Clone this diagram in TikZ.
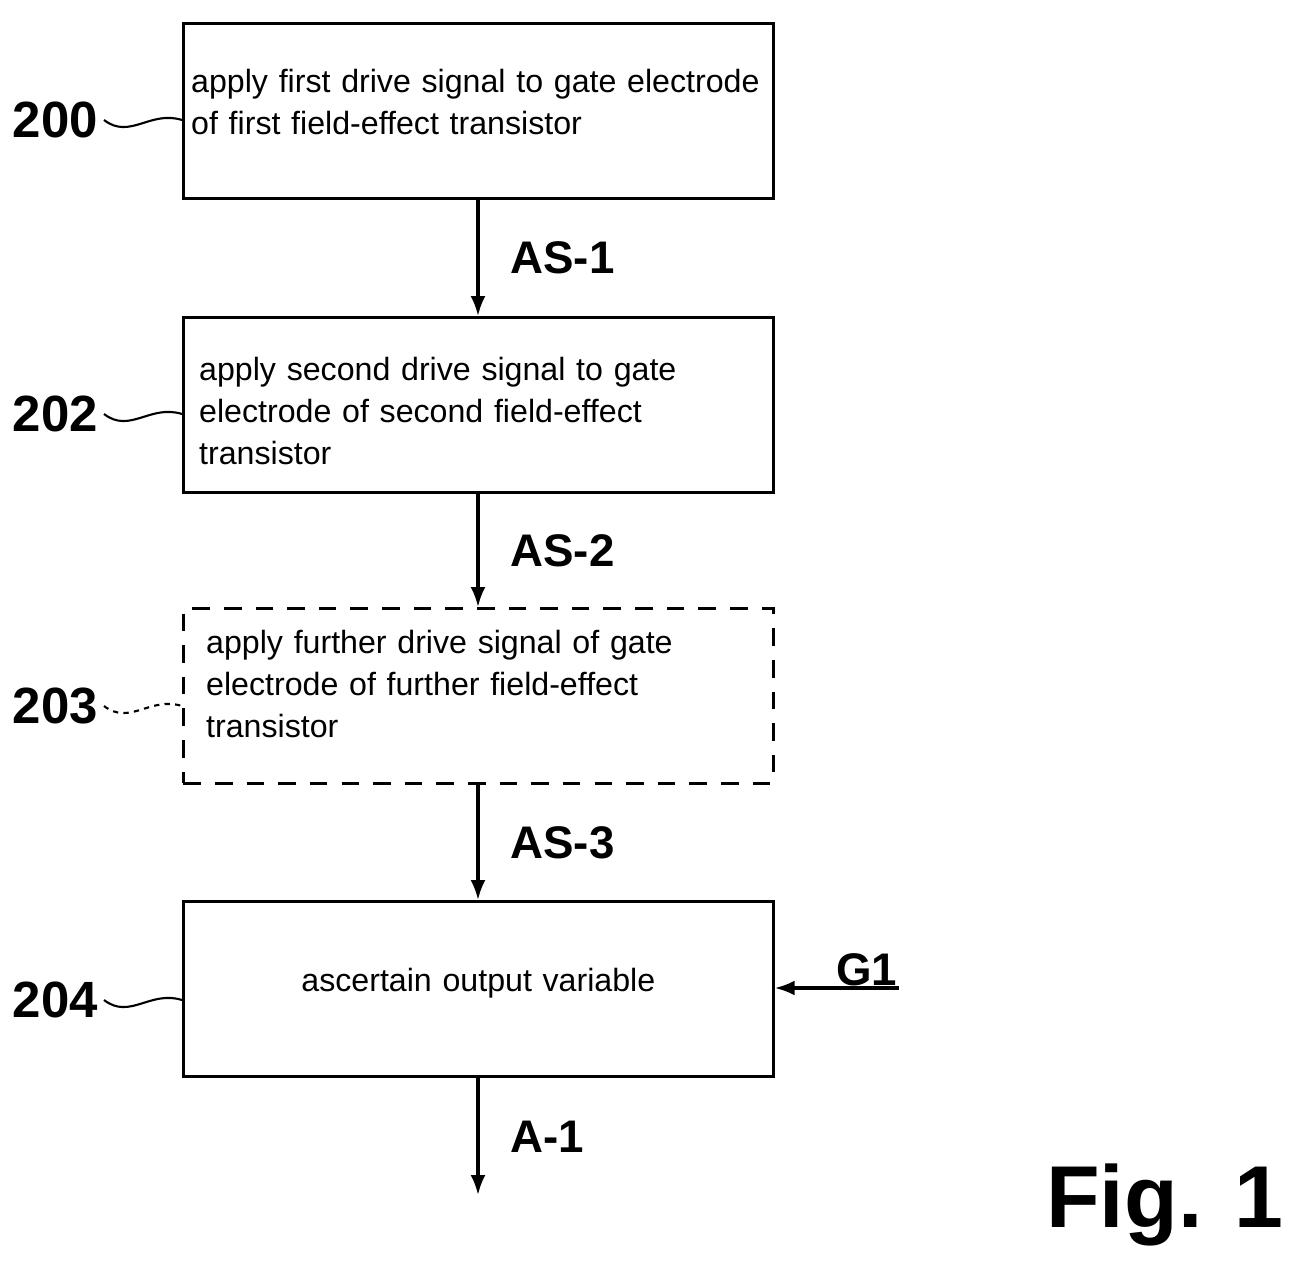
\documentclass[tikz,border=0pt]{standalone}
\usepackage{fontspec}
\setmainfont{Liberation Sans}
\usetikzlibrary{positioning}
\usetikzlibrary{arrows.meta}
\begin{document}
\begin{tikzpicture}[x=0.02cm,y=-0.02cm,
passo/.style={draw,line width=1.6pt,minimum width=11.8cm,minimum height=3.5cm,anchor=north west,inner sep=0pt},
testoP/.style={text width=11.6cm,align=left,font=\fontsize{18.3}{24}\selectfont},
numero/.style={font=\fontsize{29}{29}\selectfont\bfseries,anchor=east},
segnale/.style={font=\fontsize{26}{26}\selectfont\bfseries,anchor=west},
freccia/.style={-{Latex[length=4mm,width=3mm]},line width=1.8pt}
]
\useasboundingbox (0,0) rectangle (1300,1277);
%--
\node[passo](a) at (182,22){}; \node[testoP,anchor=west] at (185,102){apply first drive signal to gate electrode\\of first field-effect transistor};
\node[passo](b) at (182,316){}; \node[testoP,anchor=west] at (193,411){apply second drive signal to gate\\electrode of second field-effect\\transistor};
\node[passo,dashed,dash pattern=on 10pt off 8pt](c) at (182,607){}; \node[testoP,anchor=west] at (200,684){apply further drive signal of gate\\electrode of further field-effect\\transistor};
\node[passo](d) at (182,900){}; \node[testoP,align=center] at (a.center |- 0,983){ascertain output variable};
%--
\draw[freccia] (a.south -| 478,0) -- (b.north -| 478,0) node[segnale,midway,xshift=5mm]{AS-1};
\draw[freccia] (b.south -| 478,0) -- (c.north -| 478,0) node[segnale,midway,xshift=5mm]{AS-2};
\draw[freccia] (c.south -| 478,0) -- (d.north -| 478,0) node[segnale,midway,xshift=5mm]{AS-3};
\coordinate (fine) at (478,1195);
\draw[freccia] (d.south -| 478,0) -- (fine) node[segnale,midway,xshift=5mm]{A-1};
%--
\node[segnale,anchor=south west,inner sep=1pt](g) at (834,988){G1};
\draw[freccia] (g.south east) -- (g.south west) -- (d.east |- g.south);
%--
\node[numero](n200) at (104,120){200};
\node[numero](n202) at (104,414){202};
\node[numero](n203) at (104,706){203};
\node[numero](n204) at (104,1000){204};
\draw[line width=1.2pt] (n200.east) .. controls (130,140) and (150,110) .. (a.west |- 0,120);
\draw[line width=1.2pt] (n202.east) .. controls (130,434) and (150,404) .. (b.west |- 0,414);
\draw[line width=1.2pt,dashed] (n203.east) .. controls (130,726) and (150,696) .. (c.west |- 0,706);
\draw[line width=1.2pt] (n204.east) .. controls (130,1020) and (150,990) .. (d.west |- 0,1000);
%--
\node[font=\fontsize{50}{50}\selectfont\bfseries,anchor=east](fig) at (1290,1205){Fig. 1};
\end{tikzpicture}
\end{document}
